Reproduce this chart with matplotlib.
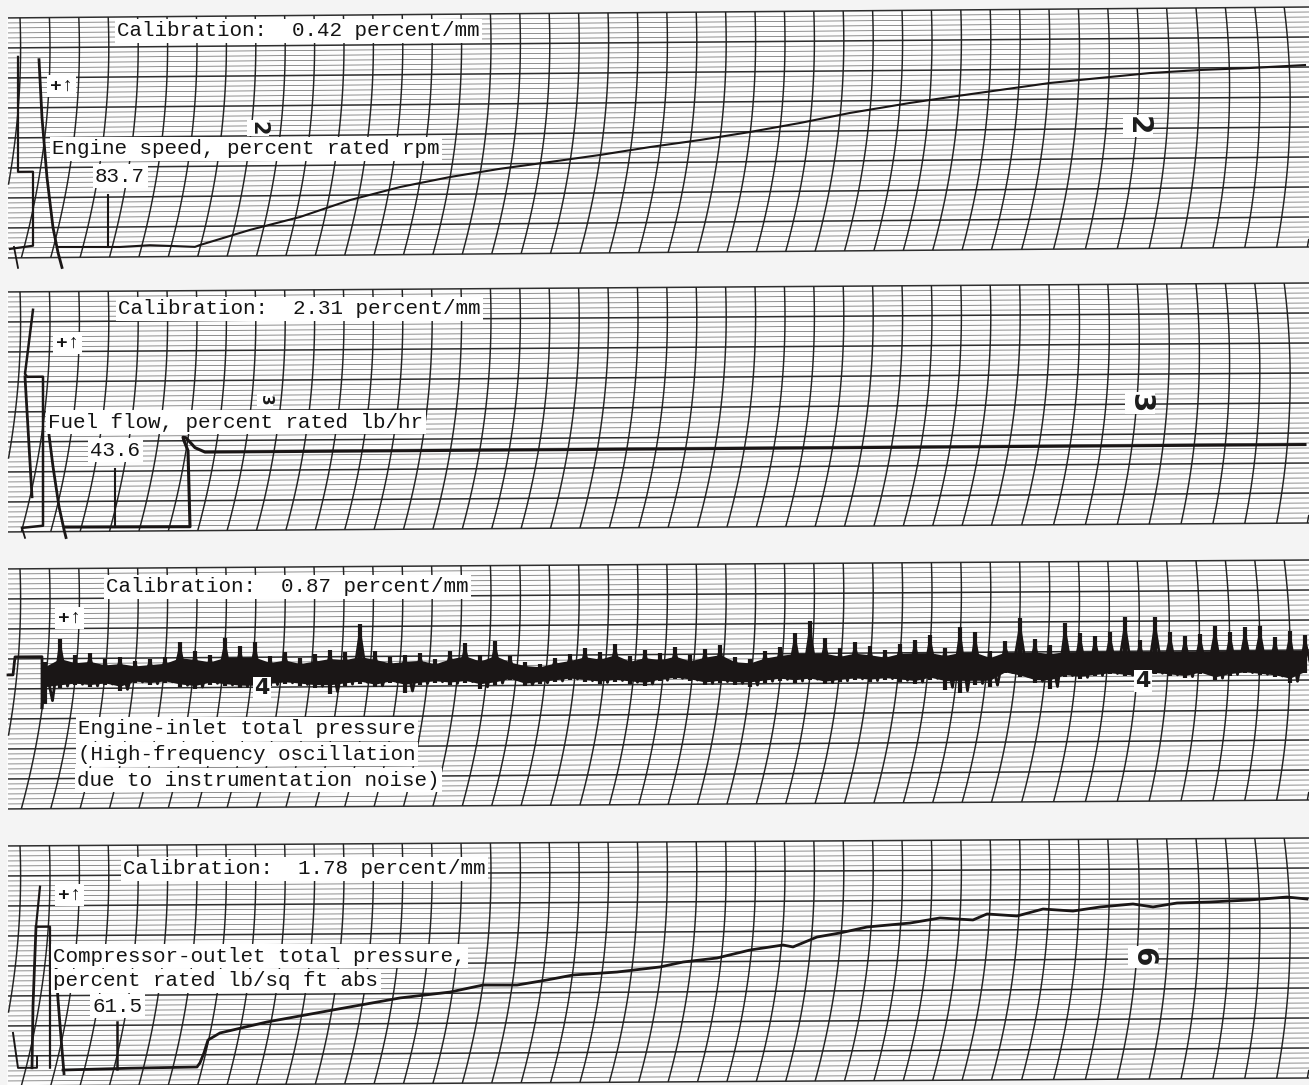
import numpy as np
import matplotlib.pyplot as plt
from matplotlib.collections import LineCollection

W, H = 1309, 1085
plt.rcParams['font.family'] = ['Liberation Mono', 'DejaVu Sans Mono']

# strip layout: top of each record strip at the left edge, and how much it rises to the right (px)
strip_top = [18, 292, 569, 846]
strip_tilt = [11, 9, 9, 8]
STRIP_H = 240

# --- engine speed (x along record, y = px below strip top) ---
speed_x = [58, 120, 150, 195, 200, 250, 300, 350, 400, 450, 500, 550, 600, 650, 700, 750,
           800, 850, 910, 950, 1000, 1050, 1100, 1150, 1200, 1250, 1305]
speed_y = [229.5, 230, 228.5, 230.5, 228.7, 214, 201.5, 185, 172.4, 162.8, 155, 148.6, 142,
           134.5, 127.9, 120.3, 111.7, 102.1, 92.6, 87, 80.4, 73.8, 69.2, 64.7, 62.1, 60.5, 58]
speed_mark_x = [108, 108]
speed_mark_y = [178, 230]
speed_cal_x = [18, 18, 33, 33, 10]
speed_cal_y = [39, 154, 154, 228, 231]
speed_zero_x = [39, 42, 47, 53, 58, 62]
speed_zero_y = [42, 100, 160, 210, 235, 250]
speed_tick_x = [14, 18]
speed_tick_y = [229, 250]

# --- fuel flow ---
fuel_x = [65, 190, 188, 184, 183, 186, 195, 205, 1305]
fuel_y = [235.5, 236, 160, 150, 146.5, 147, 157, 161.5, 161.5]
fuel_mark_x = [115, 115]
fuel_mark_y = [178, 236]
fuel_cal_x = [33, 25, 27, 43, 43, 22]
fuel_cal_y = [18, 82, 85, 85, 234, 236]
fuel_cal2_x = [25, 32]
fuel_cal2_y = [85, 205]
fuel_zero_x = [48, 53, 59, 64, 66]
fuel_zero_y = [135, 175, 215, 238, 246]
fuel_tick_x = [22, 25]
fuel_tick_y = [236, 246]

# --- engine-inlet total pressure (noise envelope around the mean line) ---
inlet_start_x = [8, 13, 15, 42, 42]
inlet_start_y = [106, 106, 88, 88, 139]
NOISE_C = 105
noise_x = list(range(45, 1306, 15))
noise_hi = [12, 35, 18, 20, 14, 16, 12, 14, 16, 31,
            22, 18, 34, 26, 30, 16, 20, 14, 18, 22,
            20, 48, 20, 14, 16, 18, 12, 20, 28, 16,
            30, 14, 8, 6, 12, 16, 22, 18, 26, 14,
            20, 16, 22, 14, 20, 24, 12, 10, 18, 22,
            36, 47, 30, 20, 26, 22, 18, 24, 28, 33,
            20, 40, 35, 16, 26, 49, 28, 22, 44, 34,
            30, 34, 49, 26, 49, 34, 30, 32, 40, 34,
            38, 39, 28, 34, 30]
noise_lo = [30, 14, 12, 14, 12, 18, 10, 12, 10, 14,
            16, 12, 14, 16, 18, 14, 12, 14, 16, 22,
            14, 12, 16, 12, 22, 14, 12, 14, 12, 18,
            14, 10, 16, 14, 12, 10, 12, 14, 12, 14,
            16, 12, 10, 12, 16, 14, 16, 18, 14, 12,
            14, 12, 16, 14, 12, 14, 12, 14, 16, 12,
            22, 26, 18, 20, 6, 10, 16, 22, 10, 12,
            10, 8, 10, 12, 8, 10, 12, 8, 14, 10,
            8, 10, 12, 18, 8]

# --- compressor-outlet total pressure ---
comp_x = [63, 130, 197, 200, 204, 208, 220, 267, 333, 400, 450, 483, 517, 547, 573, 617, 660,
          683, 717, 750, 783, 793, 817, 840, 867, 910, 940, 973, 987, 1017, 1043, 1073, 1100,
          1133, 1153, 1177, 1210, 1250, 1287, 1307]
comp_y = [224.4, 223, 222.2, 218, 208, 195.3, 188.3, 177.6, 166, 154.4, 148.8, 142, 142.2,
          137.3, 132.5, 129.8, 125, 120.2, 116.4, 108.6, 103.8, 105.8, 96, 92.1, 86.3, 82.6,
          77.7, 79.9, 74, 76.2, 69.4, 71.6, 67.7, 64.9, 68, 64.2, 63.4, 61.6, 58.9, 61]
comp_mark_x = [117, 117]
comp_mark_y = [177, 224]
comp_cal_x = [40, 36, 50, 50]
comp_cal_y = [41, 81, 81, 222]
comp_cal2_x = [36, 33, 32]
comp_cal2_y = [81, 160, 222]
comp_hook_x = [13, 18, 37, 37]
comp_hook_y = [187, 222, 222, 211]
comp_zero_x = [55, 58, 62, 64]
comp_zero_y = [104, 154, 204, 228]

calibrations = ['0.42', '2.31', '0.87', '1.78']

fig = plt.figure(figsize=(W / 100, H / 100), dpi=100, facecolor='#f4f4f4')
ax = fig.add_axes([0, 0, 1, 1])
ax.set_xlim(0, W)
ax.set_ylim(H, 0)
ax.axis('off')


def to_page(i, x, y):
    x = np.asarray(x, float)
    return x, strip_top[i] + np.asarray(y, float) - strip_tilt[i] * x / W


def draw_grid(i):
    px, py = to_page(i, [8, W, W, 8], [0, 0, STRIP_H, STRIP_H])
    ax.fill(px, py, color='#fdfdfd', zorder=0)
    fine, heavy = [], []
    for yv in range(0, STRIP_H + 1, 5):
        px, py = to_page(i, [8, W], [yv, yv])
        (heavy if yv % 30 == 0 else fine).append(np.column_stack([px, py]))
    ax.add_collection(LineCollection(fine, colors='#707070', linewidths=0.55, zorder=1))
    ax.add_collection(LineCollection(heavy, colors='#2e2e2e', linewidths=1.1, zorder=1.2))
    yy = np.linspace(0, STRIP_H, 60)
    arcs = []
    for k in range(-1, 46):
        x0 = 20 + 29.4 * k
        yc = 30 + np.clip((x0 - 1040) / 260, 0, 1) * 70
        xx = x0 - 6.5e-4 * ((yy - yc) ** 2 - yc ** 2)
        m = (xx >= 8) & (xx <= W)
        if m.sum() < 2:
            continue
        px, py = to_page(i, xx[m], yy[m])
        arcs.append(np.column_stack([px, py]))
    ax.add_collection(LineCollection(arcs, colors='#222222', linewidths=1.05, zorder=1.3))


for i in range(4):
    draw_grid(i)

ink = '#1a1616'


def trace(i, x, y, lw=1.4, color=ink, **kw):
    px, py = to_page(i, x, y)
    ax.plot(px, py, color=color, lw=lw, zorder=3, solid_joinstyle='round', **kw)


# strip 1
trace(0, speed_x, speed_y, 1.5)
trace(0, speed_mark_x, speed_mark_y, 1.5)
trace(0, speed_cal_x, speed_cal_y, 1.6)
trace(0, speed_zero_x, speed_zero_y, 2.0)
trace(0, speed_tick_x, speed_tick_y, 1.3)

# strip 2
trace(1, fuel_x, fuel_y, 2.2)
trace(1, fuel_mark_x, fuel_mark_y, 1.5)
trace(1, fuel_cal_x, fuel_cal_y, 1.8)
trace(1, fuel_cal2_x, fuel_cal2_y, 2.0)
trace(1, fuel_zero_x, fuel_zero_y, 2.0)
trace(1, fuel_tick_x, fuel_tick_y, 1.3)

# strip 3: noise band = spike strokes + dense core
nx = np.array(noise_x, float)
hi = np.array(noise_hi, float)
lo = np.array(noise_lo, float)
trace(2, inlet_start_x, inlet_start_y, 2.0)
sx, s_top = to_page(2, nx, NOISE_C - hi)
_, s_bot = to_page(2, nx, NOISE_C + lo)
ax.vlines(sx, s_top, s_bot, color=ink, lw=3.0, zorder=3)
zx = np.ravel(np.column_stack([nx, nx + 7.5]))
zy = np.ravel(np.column_stack([NOISE_C - 0.8 * hi, NOISE_C + 0.9 * lo]))
trace(2, np.r_[42, zx], np.r_[139, zy], 2.0)
core_top = NOISE_C - np.minimum(hi * 0.6, 15)
core_bot = NOISE_C + np.minimum(lo * 0.8, 13)
bx, b_top = to_page(2, nx, core_top)
_, b_bot = to_page(2, nx, core_bot)
ax.fill_between(bx, b_top, b_bot, color=ink, lw=0, zorder=3)

# strip 4
trace(3, comp_x, comp_y, 2.0)
trace(3, comp_mark_x, comp_mark_y, 1.8)
trace(3, comp_cal_x, comp_cal_y, 1.6)
trace(3, comp_cal2_x, comp_cal2_y, 2.0)
trace(3, comp_hook_x, comp_hook_y, 1.4)
trace(3, comp_zero_x, comp_zero_y, 2.0)


def label(x, y, s, **kw):
    ax.text(x, y, s, fontsize=15, ha='left', va='center', color='#141414', zorder=6,
            bbox=dict(boxstyle='square,pad=0.12', fc='white', ec='none'), **kw)


def numeral(x, y, s, rot=-90, size=20, z=4):
    ax.text(x, y, s, fontsize=size, ha='center', va='center', rotation=rot,
            family='DejaVu Sans', weight='bold', color='#1c1c1c', zorder=z,
            bbox=dict(boxstyle='square,pad=0.05', fc='white', ec='none'))


cal_pos = [(117, 31), (118, 309), (106, 587), (123, 869)]
for (cx, cy), c in zip(cal_pos, calibrations):
    label(cx, cy, f'Calibration:  {c} percent/mm')

for px_, py_ in [(50, 86), (56, 343), (58, 618), (58, 895)]:
    ax.text(px_, py_, '+↑', fontsize=14, ha='left', va='center', weight='bold',
            color='#141414', zorder=6,
            bbox=dict(boxstyle='square,pad=0.15', fc='white', ec='none'))

label(52, 149, 'Engine speed, percent rated rpm')
label(95, 176, '83.7')
label(48, 422, 'Fuel flow, percent rated lb/hr')
label(90, 450, '43.6')
label(78, 729, 'Engine-inlet total pressure')
label(78, 754, '(High-frequency oscillation')
label(77, 780, 'due to instrumentation noise)')
label(53, 956, 'Compressor-outlet total pressure,')
label(53, 981, 'percent rated lb/sq ft abs')
label(92, 1006, '61.5')

numeral(258, 128, '2', size=15)
numeral(1138, 126, '2')
numeral(265, 400, '3', size=11)
numeral(1140, 403, '3')
numeral(262, 688, '4', rot=0, size=16)
numeral(1143, 681, '4', rot=0, size=16)
numeral(1143, 957, '6')

fig.savefig('out.png', dpi=100, facecolor=fig.get_facecolor())
